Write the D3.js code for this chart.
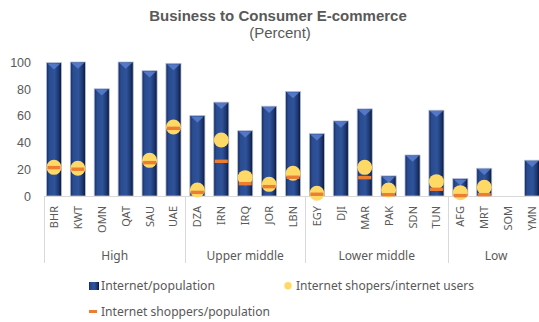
<!DOCTYPE html>
<html>
<head>
<meta charset="utf-8">
<script src="https://cdn.jsdelivr.net/npm/d3@7"></script>
<style>
  body { margin: 0; background: #fff; }
  svg text { fill: #595959; }
</style>
</head>
<body>
<div class="layout"></div>
<script>
var countries = ["BHR", "KWT", "OMN", "QAT", "SAU", "UAE",
                 "DZA", "IRN", "IRQ", "JOR", "LBN",
                 "EGY", "DJI", "MAR", "PAK", "SDN", "TUN",
                 "AFG", "MRT", "SOM", "YMN"];
var incomeGroup = ["High", "High", "High", "High", "High", "High",
                   "Upper middle", "Upper middle", "Upper middle", "Upper middle", "Upper middle",
                   "Lower middle", "Lower middle", "Lower middle", "Lower middle", "Lower middle", "Lower middle",
                   "Low", "Low", "Low", "Low"];
var groups = ["High", "Upper middle", "Lower middle", "Low"];
// Internet/population
var internetPop = [99.5, 100, 80, 100, 93.5, 99, 60, 70, 48.7, 67, 78, 46.5, 56, 65, 15, 30.6, 64, 13, 20.7, null, 26.7];
// Internet shopers/internet users
var shopUsers = [21.4, 20.7, null, null, 26.6, 51.5, 4.5, 41.8, 13.7, 8.7, 17, 2, null, 21.4, 4.5, null, 10.7, 2.5, 6.5, null, null];
// Internet shoppers/population
var shopPop = [21.2, 20, null, null, 24.9, 50.5, 2.7, 25.9, 9.2, 7, 14, 1.3, null, 13.7, 1, null, 5, 0.3, 1, null, null];
var yTicks = [0, 20, 40, 60, 80, 100];

var W = 539, H = 322;
var plot = {left: 42, right: 544, top: 62, bottom: 196};

var svg = d3.select(".layout").append("svg")
    .attr("width", W)
    .attr("height", H)
    .style("font-family", "'Noto Sans', 'Open Sans', sans-serif");

var defs = svg.append("defs");
var grad = defs.append("linearGradient").attr("id", "barGrad")
    .attr("x1", "0%").attr("x2", "100%").attr("y1", "0%").attr("y2", "0%");
[[0, "#132a5e"], [0.18, "#2a4b90"], [0.55, "#2f5399"], [0.82, "#1c3670"], [1, "#0a1430"]]
    .forEach(function(s) { grad.append("stop").attr("offset", s[0]).attr("stop-color", s[1]); });

var x = d3.scaleBand()
    .domain(countries)
    .range([plot.left, plot.right])
    .paddingInner(0.37)
    .paddingOuter(0.185);

var y = d3.scaleLinear()
    .domain([0, 100])
    .range([plot.bottom, plot.top]);

// title
svg.append("text")
    .attr("x", 278).attr("y", 21)
    .attr("text-anchor", "middle")
    .style("font-family", "'Liberation Sans', Arial, sans-serif")
    .style("font-size", "15px").style("font-weight", "bold")
    .text("Business to Consumer E-commerce");
svg.append("text")
    .attr("x", 280).attr("y", 38)
    .attr("text-anchor", "middle")
    .style("font-family", "'Liberation Sans', Arial, sans-serif")
    .style("font-size", "15px")
    .text("(Percent)");

// y axis (labels only)
var yAxis = d3.axisLeft(y).tickValues(yTicks).tickSize(0).tickPadding(0);
var gy = svg.append("g")
    .attr("transform", "translate(31,0)")
    .call(yAxis);
gy.select(".domain").remove();
gy.selectAll("text").style("font-size", "12.5px").attr("fill", "#595959").attr("dy", "0.35em");

// bars
var barData = countries.map(function(c, i) { return {c: c, v: internetPop[i]}; })
    .filter(function(d) { return d.v != null; });

var bars = svg.append("g").attr("class", "bars");
bars.selectAll("rect")
    .data(barData)
    .enter().append("rect")
    .attr("x", function(d) { return x(d.c); })
    .attr("y", function(d) { return y(d.v); })
    .attr("width", x.bandwidth())
    .attr("height", function(d) { return y(0) - y(d.v); })
    .attr("fill", "url(#barGrad)")
    .attr("stroke", "#b4c0da")
    .attr("stroke-width", 0.8);

// bevel triangle on top of each bar
bars.selectAll("path.bevel")
    .data(barData)
    .enter().append("path")
    .attr("class", "bevel")
    .attr("d", function(d) {
        var x0 = x(d.c) + 1, x1 = x(d.c) + x.bandwidth() - 1, t = y(d.v) + 0.8;
        return "M" + x0 + "," + t + "L" + x1 + "," + t + "L" + ((x0 + x1) / 2) + "," + (t + 6) + "Z";
    })
    .attr("fill", "#5a7fcf")
    .attr("opacity", 0.85);

// x axis baseline and group separators
var axisG = svg.append("g").attr("class", "x axis");
axisG.append("line")
    .attr("x1", 44).attr("x2", W)
    .attr("y1", plot.bottom + 0.5).attr("y2", plot.bottom + 0.5)
    .attr("stroke", "#d9d9d9").attr("stroke-width", 1.2);

var groupRanges = groups.map(function(g) {
    var idx = countries.filter(function(c, i) { return incomeGroup[i] === g; });
    var step = x.step();
    return {g: g,
            x0: x(idx[0]) - (step - x.bandwidth()) / 2,
            x1: x(idx[idx.length - 1]) + x.bandwidth() + (step - x.bandwidth()) / 2};
});
groupRanges[0].x0 = 44;

axisG.selectAll("line.sep")
    .data(groupRanges)
    .enter().append("line")
    .attr("class", "sep")
    .attr("x1", function(d) { return Math.round(d.x0) + 0.5; })
    .attr("x2", function(d) { return Math.round(d.x0) + 0.5; })
    .attr("y1", plot.bottom).attr("y2", 263)
    .attr("stroke", "#d9d9d9").attr("stroke-width", 1);

axisG.selectAll("text.cat")
    .data(countries)
    .enter().append("text")
    .attr("class", "cat")
    .attr("transform", function(d) {
        return "translate(" + (x(d) + x.bandwidth() / 2 + 4) + ",206) rotate(-90)";
    })
    .attr("text-anchor", "end")
    .style("font-size", "11px")
    .text(function(d) { return d; });

axisG.selectAll("text.grp")
    .data(groupRanges)
    .enter().append("text")
    .attr("class", "grp")
    .attr("x", function(d) { return (d.x0 + d.x1) / 2; })
    .attr("y", 260)
    .attr("text-anchor", "middle")
    .style("font-size", "12px")
    .text(function(d) { return d.g; });

// circles: shoppers/internet users
var circData = countries.map(function(c, i) { return {c: c, v: shopUsers[i]}; })
    .filter(function(d) { return d.v != null; });
svg.append("g").selectAll("circle")
    .data(circData)
    .enter().append("circle")
    .attr("cx", function(d) { return x(d.c) + x.bandwidth() / 2; })
    .attr("cy", function(d) { return y(d.v); })
    .attr("r", 7.5)
    .attr("fill", "#ffd966");

// dashes: shoppers/population
var dashData = countries.map(function(c, i) { return {c: c, v: shopPop[i]}; })
    .filter(function(d) { return d.v != null; });
svg.append("g").selectAll("rect")
    .data(dashData)
    .enter().append("rect")
    .attr("x", function(d) { return x(d.c) + x.bandwidth() / 2 - 6.5; })
    .attr("y", function(d) { return y(d.v) - 1.7; })
    .attr("width", 13)
    .attr("height", 3.4)
    .attr("fill", "#ed7d31");

// legend
var leg = svg.append("g").style("font-size", "12px");
leg.append("rect").attr("x", 89).attr("y", 282).attr("width", 10).attr("height", 8)
    .attr("fill", "url(#barGrad)");
leg.append("text").attr("x", 101).attr("y", 290)
    .attr("textLength", 114).attr("lengthAdjust", "spacingAndGlyphs")
    .text("Internet/population");
leg.append("circle").attr("cx", 288).attr("cy", 285.7).attr("r", 3.7).attr("fill", "#ffd966");
leg.append("text").attr("x", 296).attr("y", 290)
    .attr("textLength", 178).attr("lengthAdjust", "spacingAndGlyphs")
    .text("Internet shopers/internet users");
leg.append("rect").attr("x", 89).attr("y", 310).attr("width", 8).attr("height", 3).attr("fill", "#ed7d31");
leg.append("text").attr("x", 101).attr("y", 316)
    .attr("textLength", 169).attr("lengthAdjust", "spacingAndGlyphs")
    .text("Internet shoppers/population");
</script>
</body>
</html>
